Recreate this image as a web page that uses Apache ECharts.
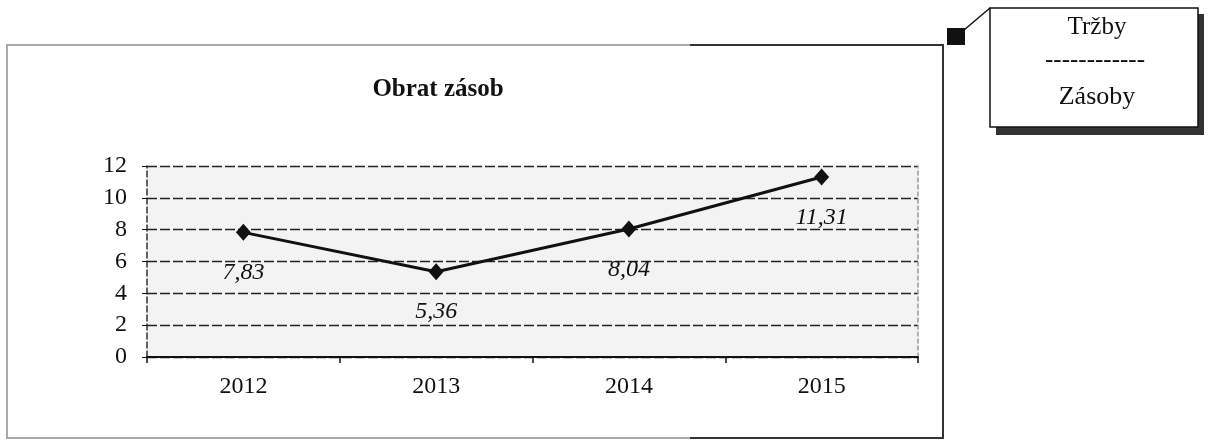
<!DOCTYPE html>
<html>
<head>
<meta charset="utf-8">
<script src="https://cdn.jsdelivr.net/npm/echarts@6/dist/echarts.min.js"></script>
<style>
  html, body { margin: 0; padding: 0; background: #fff; }
  #main { width: 1211px; height: 441px; }
</style>
</head>
<body>
<div id="main"></div>
<script>
// data
let years = ['2012', '2013', '2014', '2015'];
let turnover = [7.83, 5.36, 8.04, 11.31];
let yTicks = [0, 2, 4, 6, 8, 10, 12];

let serif = '"Liberation Serif", "DejaVu Serif", serif';

var myChart = echarts.init(document.getElementById('main'));

var option = {
    animation: false,
    backgroundColor: '#fff',
    title: {
        text: 'Obrat zásob',
        left: 433,
        textAlign: 'center',
        top: 72,
        textStyle: { fontFamily: serif, fontSize: 25, fontWeight: 'bold', color: '#111' }
    },
    grid: {
        left: 147, right: 293, top: 166, bottom: 84,
        show: true, backgroundColor: '#f3f3f3', borderWidth: 0
    },
    xAxis: {
        type: 'category',
        data: years,
        boundaryGap: true,
        axisLine: { lineStyle: { color: '#111', width: 2 } },
        axisTick: { show: true, length: 6, lineStyle: { color: '#111', width: 1.5 } },
        axisLabel: { margin: 18, fontFamily: serif, fontSize: 24, color: '#111' }
    },
    yAxis: [{
        type: 'value',
        min: yTicks[0],
        max: yTicks[yTicks.length - 1],
        interval: 2,
        axisLine: { show: true, lineStyle: { color: '#333', width: 1.5, type: [6, 3] } },
        axisTick: { show: true, length: 5, lineStyle: { color: '#111' } },
        axisLabel: { margin: 20, fontFamily: serif, fontSize: 24, color: '#111' },
        splitLine: { lineStyle: { color: '#222', width: 1.3, type: [10, 3] } }
    }, {
        type: 'value',
        position: 'right',
        min: 0, max: 12, interval: 2,
        axisLine: { show: true, lineStyle: { color: '#999', width: 1.5, type: [4, 3] } },
        axisTick: { show: false },
        axisLabel: { show: false },
        splitLine: { show: false }
    }],
    series: [{
        type: 'line',
        data: turnover,
        symbol: 'diamond',
        symbolSize: [15, 17],
        itemStyle: { color: '#111' },
        lineStyle: { color: '#111', width: 3 },
        label: {
            show: true,
            position: 'bottom',
            distance: 20,
            fontFamily: serif,
            fontStyle: 'italic',
            fontSize: 24,
            color: '#111',
            formatter: function (p) { return p.value.toFixed(2).replace('.', ','); }
        }
    }],
    graphic: [
        // outer chart frame
        { type: 'polyline', shape: { points: [[690, 438], [7, 438], [7, 45], [690, 45]] }, style: { stroke: '#aaa', lineWidth: 2, fill: null } },
        { type: 'polyline', shape: { points: [[690, 45], [943, 45], [943, 438], [690, 438]] }, style: { stroke: '#333', lineWidth: 2, fill: null } },
        // callout
        { type: 'rect', shape: { x: 947, y: 28, width: 18, height: 17 }, style: { fill: '#111' } },
        { type: 'line', shape: { x1: 964, y1: 30, x2: 990, y2: 8 }, style: { stroke: '#111', lineWidth: 1.5 } },
        { type: 'rect', shape: { x: 996, y: 14, width: 208, height: 121 }, style: { fill: '#333' } },
        { type: 'rect', shape: { x: 990, y: 8, width: 208, height: 119 }, style: { fill: '#fff', stroke: '#111', lineWidth: 1.5 } },
        { type: 'text', x: 1097, y: 27, style: { text: 'Tržby', fontFamily: serif, fontSize: 25, fill: '#111', align: 'center', verticalAlign: 'middle' } },
        { type: 'text', x: 1095, y: 60, style: { text: '------------', fontFamily: serif, fontSize: 25, fill: '#111', align: 'center', verticalAlign: 'middle' } },
        { type: 'text', x: 1097, y: 97, style: { text: 'Zásoby', fontFamily: serif, fontSize: 26, fill: '#111', align: 'center', verticalAlign: 'middle' } }
    ]
};

myChart.setOption(option);
</script>
</body>
</html>
